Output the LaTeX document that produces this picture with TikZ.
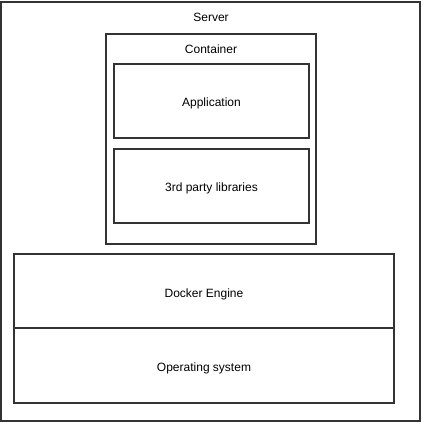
\documentclass[tikz,border=0pt]{standalone}
\usepackage{fontspec}
\setmainfont{Liberation Sans}
\begin{document}
\begin{tikzpicture}[x=1pt,y=-1pt,
  box/.style={draw=black!80, line width=1.5pt, inner sep=0pt},
  txt/.style={font=\fontsize{12}{14}\selectfont, text height=12pt, text depth=0pt}]
\useasboundingbox (0,0) rectangle (426,425);

\node[box, minimum width=419pt, minimum height=419pt] (server) at (210.5,211.5) {};
\node[font=\fontsize{12}{14}\selectfont, anchor=base] (serverlbl) at (211,21.7) {Server};

\node[box, minimum width=210pt, minimum height=210pt] (container) at (211,139) {};
\node[font=\fontsize{12}{14}\selectfont, anchor=base] (containerlbl) at (211,54) {Container};

\node[box, txt, minimum width=195pt, minimum height=74pt] (app) at (211.5,101) {Application};
\node[box, txt, minimum width=195pt, minimum height=74pt] (libs) at (211.5,186) {3rd party libraries};

\node[box, txt, minimum width=380pt, minimum height=74pt] (docker) at (204,291) {Docker Engine};
\node[box, txt, minimum width=380pt, minimum height=75pt] (os) at (204,365.5) {Operating system};

\end{tikzpicture}
\end{document}
